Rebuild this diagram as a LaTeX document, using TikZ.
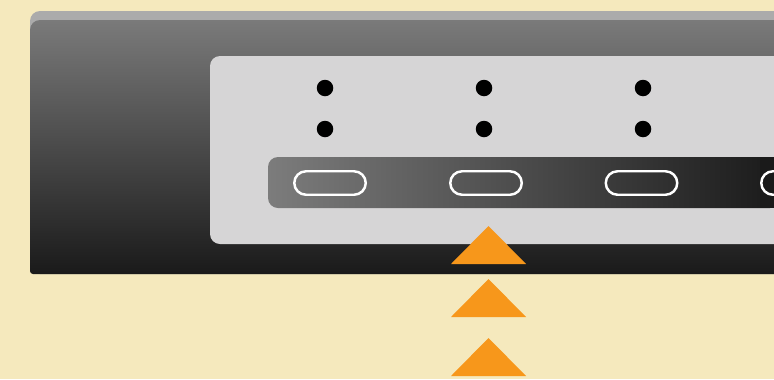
\documentclass[tikz,border=0pt]{standalone}
\usetikzlibrary{positioning}
\definecolor{cream}{HTML}{F5E9BD}
\definecolor{rimgray}{HTML}{ABABAB}
\definecolor{casetop}{HTML}{7A7A7A}
\definecolor{casebot}{HTML}{1A1A1A}
\definecolor{facegray}{HTML}{D6D5D6}
\definecolor{striplt}{HTML}{7C7C7C}
\definecolor{stripdk}{HTML}{1A1A1A}
\definecolor{amber}{HTML}{F7971B}

\begin{document}
\begin{tikzpicture}[
  led/.style={circle, fill=black, inner sep=0pt, minimum size=0.33cm},
  slot/.style={draw=white, line width=1.4pt, rounded corners=0.235cm, minimum width=1.43cm, minimum height=0.47cm, inner sep=0pt},
  pointer/.style={fill=amber},
]

% Background
\fill[cream] (0,0) rectangle (15.48,7.58);
\clip (0,0) rectangle (15.48,7.58);

% Case
\fill[rimgray, rounded corners=0.2cm] (0.6,2.1) rectangle (16.2,7.36);
\shade[top color=casetop, bottom color=casebot]
  (16.2,2.1) [rounded corners=0.06cm] -- (0.6,2.1)
  [rounded corners=0.2cm] -- (0.6,7.18) -- (16.2,7.18) -- cycle;

% Front face
\fill[facegray, rounded corners=0.2cm] (4.2,2.7) rectangle (16.2,6.46);

% Indicator lights
\node[led] (ledA1) at (6.5,5.82) {};
\node[led] (ledA2) at (6.5,5.0) {};
\node[led] (ledB1) at (9.68,5.82) {};
\node[led] (ledB2) at (9.68,5.0) {};
\node[led] (ledC1) at (12.86,5.82) {};
\node[led] (ledC2) at (12.86,5.0) {};

% Port strip
\shade[left color=striplt, right color=stripdk, rounded corners=0.2cm]
  (5.36,3.42) rectangle (15.6,4.44);
\fill[stripdk] (15.2,3.42) rectangle (16.2,4.44);

% Ports
\node[slot] (portA) at (6.6,3.92) {};
\node[slot] (portB) at (9.72,3.92) {};
\node[slot] (portC) at (12.83,3.92) {};
\node[slot] (portD) at (15.94,3.92) {};

% Arrows up
\fill[pointer] (9.02,2.3) -- (9.77,3.06) -- (10.52,2.3) -- cycle;
\fill[pointer] (9.02,1.24) -- (9.77,2.0) -- (10.52,1.24) -- cycle;
\fill[pointer] (9.02,0.06) -- (9.77,0.82) -- (10.52,0.06) -- cycle;

\end{tikzpicture}
\end{document}
